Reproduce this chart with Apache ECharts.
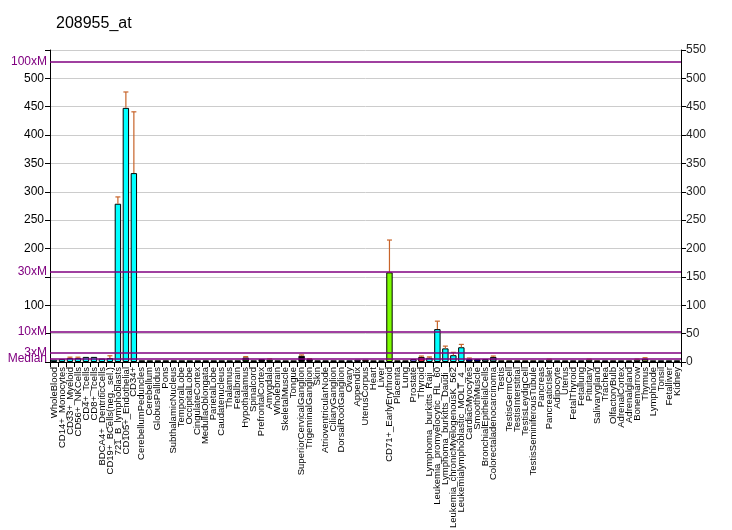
<!DOCTYPE html>
<html>
<head>
<meta charset="utf-8">
<script src="https://cdn.jsdelivr.net/npm/echarts@6/dist/echarts.min.js"></script>
<style>html,body{margin:0;padding:0;background:#fff}#c{width:732px;height:530px}</style>
</head>
<body>
<div id="c"></div>
<script>
const categories = ["WholeBlood","CD14+_Monocytes","CD33+_Myeloid","CD56+_NKCells","CD4+_Tcells","CD8+_Tcells","BDCA4+_DentriticCells","CD19+_BCells(neg._sel.)","721_B_lymphoblasts","CD105+_Endothelial","CD34+","CerebellumPeduncles","Cerebellum","GlobusPallidus","Pons","SubthalamicNucleus","TemporalLobe","OccipitalLobe","CingulateCortex","MedullaOblongata","ParietalLobe","Caudatenucleus","Thalamus","Fetalbrain","Hypothalamus","Spinalcord","PrefrontalCortex","Amygdala","Wholebrain","SkeletalMuscle","Tongue","SuperiorCervicalGanglion","TrigeminalGanglion","Skin","AtrioventricularNode","CiliaryGanglion","DorsalRootGanglion","Ovary","Appendix","UterusCorpus","Heart","Liver","CD71+_EarlyErythroid","Placenta","Lung","Prostate","Thyroid","Lymphoma_burkitts_Raji_","Leukemia_promyelocytic_HL_60","Lymphoma_burkitts_Daudi_","Leukemia_chronicMyelogenousK_562","Leukemialymphoblastic_MOLT_4_","CardiacMyocytes","SmoothMuscle","BronchialEpithelialCells","Colorectaladenocarcinoma","Testis","TestisGermCell","TestisInterstitial","TestisLeydigCell","TestisSeminiferousTubule","Pancreas","PancreaticIslet","Adipocyte","Uterus","FetalThyroid","Fetallung","Pituitary","Salivarygland","Trachea","OlfactoryBulb","AdrenalCortex","Adrenalgland","Bonemarrow","Thymus","Lymphnode","Tonsil","Fetalliver","Kidney"];

const values = [4,5,7,7,9,9,6,7,279,448,333,3,3,3,3,3,3,3,3,3,3,3,3,3,8,3,5,4,3,3,3,11,5,3,3,3,3,3,4,4,3,3,158,3,3,5,9,7.5,58,24,12,26,5,5,5,9,3,3,3,3,3,3,4,3,3,3,3,4,3,3,3,3,3,4,6,3,3,3,3];

const errorTops = [null,null,8.5,8.5,null,null,null,11,291,476,441,null,null,null,null,null,null,null,null,null,null,null,null,null,9.5,null,null,5.5,null,null,null,12.5,6,null,null,null,null,null,null,null,null,null,215,null,null,null,10.5,9,72,28,17,31,7,null,null,10.5,null,null,null,null,null,null,5,null,null,null,null,5,null,null,null,null,null,5,7.5,null,null,null,null];

const barColors = ["#00ffff","#00ffff","#00ffff","#00ffff","#00ffff","#00ffff","#00ffff","#00ffff","#00ffff","#00ffff","#00ffff","#006400","#006400","#006400","#006400","#006400","#006400","#006400","#006400","#006400","#006400","#006400","#006400","#006400","#0a3a0a","#006400","#111111","#006400","#006400","#ffe4c4","#ffe4c4","#000000","#1a001a","#1a001a","#1a001a","#1a001a","#1a001a","#0000cd","#9932cc","#b22234","#f4a0a0","#708090","#7cfc00","#e07040","#fa8072","#7b68ee","#dc143c","#00ffff","#00ffff","#00ffff","#00ffff","#00ffff","#000080","#000080","#2e5e5e","#2f6f6f","#b8860b","#b8860b","#b8860b","#b8860b","#b8860b","#a0a0b0","#b0a0c0","#7fffd4","#d2b48c","#8b008b","#8b008b","#8fbc8f","#ff8c00","#6a0dad","#8b0000","#ffb6c1","#fa8072","#a0c0a0","#556b2f","#8fbc8f","#483d8b","#2f4f4f","#305050"];

const refLines = [
  {name: "100xM", value: 530},
  {name: "30xM", value: 159},
  {name: "10xM", value: 53},
  {name: "3xM", value: 15.9},
  {name: "Median", value: 5.3}
];

const yTicksHiddenLeft = [0, 50, 150, 550];

const chart = echarts.init(document.getElementById('c'));
const FONT = 'Liberation Sans, Arial, sans-serif';

const option = {
  animation: false,
  backgroundColor: '#ffffff',
  title: {
    text: '208955_at', left: 51, top: 11,
    textStyle: {fontSize: 16, fontWeight: 'normal', color: '#000', fontFamily: FONT}
  },
  grid: {left: 50, right: 51, top: 50, bottom: 168, containLabel: false, outerBoundsMode: 'none'},
  xAxis: {
    type: 'category', data: categories,
    axisLine: {lineStyle: {color: '#000', width: 1}},
    axisTick: {show: true, alignWithLabel: false, length: 5, lineStyle: {color: '#000'}},
    axisLabel: {interval: 0, rotate: 90, fontSize: 9.5, color: '#000', fontFamily: FONT, margin: 5},
    splitLine: {show: false}
  },
  yAxis: [
    {
      type: 'value', min: 0, max: 550, interval: 50, position: 'left',
      axisLine: {show: true, lineStyle: {color: '#000'}},
      axisTick: {show: true, length: 5, lineStyle: {color: '#000'}},
      axisLabel: {fontSize: 12, color: '#000', fontFamily: FONT, margin: 6,
        formatter: v => yTicksHiddenLeft.indexOf(v) >= 0 ? '' : String(v)},
      splitLine: {show: true, lineStyle: {color: '#cccccc', width: 1}}
    },
    {
      type: 'value', min: 0, max: 550, interval: 50, position: 'right',
      axisLine: {show: true, lineStyle: {color: '#000'}},
      axisTick: {show: true, length: 5, lineStyle: {color: '#000'}},
      axisLabel: {fontSize: 12, color: '#222', fontFamily: FONT, margin: 5},
      splitLine: {show: false}
    }
  ],
  series: [
    {
      type: 'bar', yAxisIndex: 0,
      data: values.map((v, i) => ({value: v, itemStyle: {color: barColors[i]}})),
      barCategoryGap: '20%',
      itemStyle: {borderColor: '#000', borderWidth: 1},
      markLine: {
        silent: true, symbol: 'none',
        lineStyle: {color: '#800080', width: 1.5, type: 'solid'},
        label: {position: 'start', color: '#800080', fontSize: 12, fontFamily: FONT, distance: 3,
          formatter: p => p.name},
        data: refLines.map(r => ({name: r.name, yAxis: r.value}))
      },
      z: 2
    },
    {
      type: 'custom', yAxisIndex: 0, z: 3,
      data: values.map((v, i) => [i, v, errorTops[i]]),
      renderItem: function (params, api) {
        const top = api.value(2);
        if (top === null || top === undefined || isNaN(top)) return null;
        const base = api.coord([api.value(0), api.value(1)]);
        const hi = api.coord([api.value(0), top]);
        const hw = 2.5;
        const style = {stroke: '#c8642a', lineWidth: 1.2};
        return {
          type: 'group',
          children: [
            {type: 'line', shape: {x1: base[0], y1: base[1], x2: hi[0], y2: hi[1]}, style: style},
            {type: 'line', shape: {x1: hi[0] - hw, y1: hi[1], x2: hi[0] + hw, y2: hi[1]}, style: style}
          ]
        };
      }
    }
  ]
};
chart.setOption(option);
</script>
</body>
</html>
